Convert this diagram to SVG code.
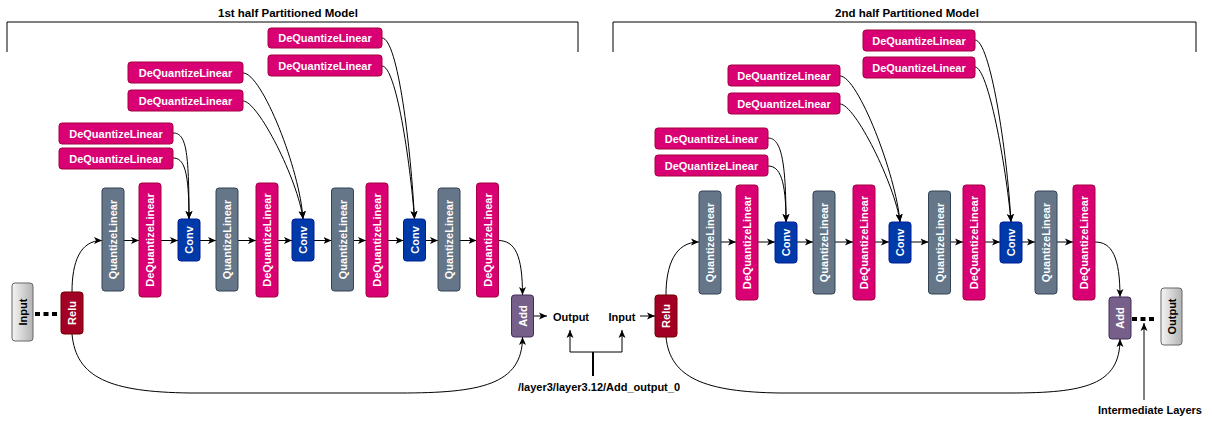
<svg xmlns="http://www.w3.org/2000/svg" width="1212" height="421" viewBox="0 0 1212 421">
<defs>
<marker id="ah" markerUnits="userSpaceOnUse" markerWidth="9" markerHeight="8" refX="8" refY="4" orient="auto"><path d="M0,0.5 L8,4 L0,7.5 L2,4 z" fill="#000"/></marker>
<linearGradient id="gray" x1="0" y1="0" x2="1" y2="0"><stop offset="0" stop-color="#f5f5f5"/><stop offset="1" stop-color="#b3b3b3"/></linearGradient>
<style>
text{font-family:"Liberation Sans",Arial,sans-serif;font-weight:bold;font-size:11px;dominant-baseline:central;text-anchor:middle}
.w{fill:#fff}
.k{fill:#000}
.ql{fill:#647687;stroke:#314354}
.dql{fill:#d80073;stroke:#a50040}
.conv{fill:#0039a8;stroke:#001d9c}
.relu{fill:#a20025;stroke:#6f0000}
.add{fill:#76608a;stroke:#432d57}
.io{fill:url(#gray);stroke:#666}
.e{fill:none;stroke:#000;stroke-width:1;marker-end:url(#ah)}
.p{fill:none;stroke:#000;stroke-width:1}
.dot{fill:none;stroke:#000;stroke-width:4;stroke-dasharray:5 3.5}
</style>
</defs>
<rect width="1212" height="421" fill="#fff"/>

<g id="frames">
<path class="p" d="M7,52 V22 H578 V52"/>
<text x="288" y="13" class="k" style="font-size:11.5px">1st half Partitioned Model</text>
<path class="p" d="M613,52 V22 H1196 V52"/>
<text x="907" y="13" class="k" style="font-size:11.5px">2nd half Partitioned Model</text>
</g>

<g id="connectors">
<path class="e" d="M124,240.5 H139"/>
<path class="e" d="M161,240.5 H178"/>
<path class="e" d="M200,240.5 H216"/>
<path class="e" d="M238,240.5 H256"/>
<path class="e" d="M278,240.5 H292"/>
<path class="e" d="M314,240.5 H331.5"/>
<path class="e" d="M353.5,240.5 H366"/>
<path class="e" d="M388,240.5 H403.5"/>
<path class="e" d="M425.5,240.5 H438"/>
<path class="e" d="M460,240.5 H476.5"/>
<path class="e" d="M721,242 H736"/>
<path class="e" d="M758,242 H775"/>
<path class="e" d="M797,242 H813"/>
<path class="e" d="M835,242 H853"/>
<path class="e" d="M875,242 H889"/>
<path class="e" d="M911,242 H928.5"/>
<path class="e" d="M950.5,242 H963"/>
<path class="e" d="M985,242 H1000"/>
<path class="e" d="M1022,242 H1035"/>
<path class="e" d="M1057,242 H1073"/>
<path class="e" d="M72,292 C72,262 80,240.5 102,240.5"/>
<path class="e" d="M666,295 C666,265 675,242 699,242"/>
<path class="e" d="M173,133 C186,133 189,150 189,219"/>
<path class="e" d="M173,158 C184,158 189,170 189,219"/>
<path class="e" d="M243,73 C262,73 300,170 303,219"/>
<path class="e" d="M243,101 C258,101 298,180 303,219"/>
<path class="e" d="M382,38 C398,38 411,150 414.5,219"/>
<path class="e" d="M382,66 C396,66 410,160 414.5,219"/>
<path class="e" d="M768,138 C781,138 786,160 786,222"/>
<path class="e" d="M768,166 C780,166 786,180 786,222"/>
<path class="e" d="M840,76 C858,76 896,175 900,222"/>
<path class="e" d="M840,104 C855,104 895,185 900,222"/>
<path class="e" d="M975,40 C990,40 1007,150 1011,222"/>
<path class="e" d="M975,67 C988,67 1006,165 1011,222"/>
<path class="e" d="M498,240.5 C515,240.5 522.5,255 522.5,295"/>
<path class="e" d="M1095,242 C1112,242 1120,257 1120,297"/>
<path class="e" d="M72,334 C76,378 110,392 190,393 L400,393 C480,393 522.5,385 522.5,337"/>
<path class="e" d="M666,337 C670,378 705,392 780,393 L1010,393 C1085,393 1120,385 1120,339"/>
<path class="e" d="M533,316 H547"/>
<path class="e" d="M640,316 H655"/>
<path class="e" d="M570,352 V330"/>
<path class="e" d="M622,352 V330"/>
<path class="p" d="M570,352 H622"/>
<path class="p" d="M593,352 V376" style="stroke-width:2"/>
<path class="dot" d="M35,314 H58"/>
<path class="dot" d="M1132,319 H1155"/>
<path class="e" d="M1144,400 V323"/>
</g>

<g id="labels">
<text x="571" y="317" class="k">Output</text>
<text x="622" y="317" class="k">Input</text>
<text x="599" y="387" class="k">/layer3/layer3.12/Add_output_0</text>
<text x="1150" y="410" class="k">Intermediate Layers</text>
</g>

<g id="input1"><rect class="io" x="12" y="283" width="21" height="58" rx="3"/><text class="k" transform="translate(22.5,312) rotate(-90)">Input</text></g>
<g id="relu1"><rect class="relu" x="61" y="292" width="22" height="42" rx="3"/><text class="w" transform="translate(72,313) rotate(-90)">Relu</text></g>

<g id="dqlh1"><rect class="dql" x="268" y="28" width="114" height="20" rx="3"/><text class="w" x="325" y="38">DeQuantizeLinear</text></g>
<g id="dqlh2"><rect class="dql" x="268" y="55" width="114" height="21" rx="3"/><text class="w" x="325" y="65.5">DeQuantizeLinear</text></g>
<g id="dqlh3"><rect class="dql" x="128" y="62" width="115" height="21" rx="3"/><text class="w" x="185.5" y="72.5">DeQuantizeLinear</text></g>
<g id="dqlh4"><rect class="dql" x="128" y="90" width="115" height="21" rx="3"/><text class="w" x="185.5" y="100.5">DeQuantizeLinear</text></g>
<g id="dqlh5"><rect class="dql" x="59" y="123" width="114" height="21" rx="3"/><text class="w" x="116" y="133.5">DeQuantizeLinear</text></g>
<g id="dqlh6"><rect class="dql" x="59" y="148" width="114" height="21" rx="3"/><text class="w" x="116" y="158.5">DeQuantizeLinear</text></g>

<g id="ql1"><rect class="ql" x="102" y="188" width="22" height="103" rx="3"/><text class="w" transform="translate(113,239.5) rotate(-90)">QuantizeLinear</text></g>
<g id="dql1"><rect class="dql" x="139" y="183" width="22" height="114" rx="3"/><text class="w" transform="translate(150,240) rotate(-90)">DeQuantizeLinear</text></g>
<g id="conv1"><rect class="conv" x="178" y="219" width="22" height="42" rx="3"/><text class="w" transform="translate(189,240) rotate(-90)">Conv</text></g>
<g id="ql2"><rect class="ql" x="216" y="188" width="22" height="103" rx="3"/><text class="w" transform="translate(227,239.5) rotate(-90)">QuantizeLinear</text></g>
<g id="dql2"><rect class="dql" x="256" y="183" width="22" height="114" rx="3"/><text class="w" transform="translate(267,240) rotate(-90)">DeQuantizeLinear</text></g>
<g id="conv2"><rect class="conv" x="292" y="219" width="22" height="42" rx="3"/><text class="w" transform="translate(303,240) rotate(-90)">Conv</text></g>
<g id="ql3"><rect class="ql" x="331.5" y="188" width="22" height="103" rx="3"/><text class="w" transform="translate(342.5,239.5) rotate(-90)">QuantizeLinear</text></g>
<g id="dql3"><rect class="dql" x="366" y="183" width="22" height="114" rx="3"/><text class="w" transform="translate(377,240) rotate(-90)">DeQuantizeLinear</text></g>
<g id="conv3"><rect class="conv" x="403.5" y="219" width="22" height="42" rx="3"/><text class="w" transform="translate(414.5,240) rotate(-90)">Conv</text></g>
<g id="ql4"><rect class="ql" x="438" y="188" width="22" height="103" rx="3"/><text class="w" transform="translate(449,239.5) rotate(-90)">QuantizeLinear</text></g>
<g id="dql4"><rect class="dql" x="476.5" y="183" width="22" height="114" rx="3"/><text class="w" transform="translate(487.5,240) rotate(-90)">DeQuantizeLinear</text></g>
<g id="add1"><rect class="add" x="511.5" y="295" width="22" height="42" rx="3"/><text class="w" transform="translate(522.5,316) rotate(-90)">Add</text></g>

<g id="relu2"><rect class="relu" x="655" y="295" width="22" height="42" rx="3"/><text class="w" transform="translate(666,316) rotate(-90)">Relu</text></g>

<g id="dqlh7"><rect class="dql" x="863" y="30" width="112" height="21" rx="3"/><text class="w" x="919" y="40.5">DeQuantizeLinear</text></g>
<g id="dqlh8"><rect class="dql" x="863" y="57" width="112" height="21" rx="3"/><text class="w" x="919" y="67.5">DeQuantizeLinear</text></g>
<g id="dqlh9"><rect class="dql" x="728" y="65" width="112" height="21" rx="3"/><text class="w" x="784" y="75.5">DeQuantizeLinear</text></g>
<g id="dqlh10"><rect class="dql" x="728" y="93" width="112" height="21" rx="3"/><text class="w" x="784" y="103.5">DeQuantizeLinear</text></g>
<g id="dqlh11"><rect class="dql" x="655" y="128" width="113" height="21" rx="3"/><text class="w" x="711.5" y="138.5">DeQuantizeLinear</text></g>
<g id="dqlh12"><rect class="dql" x="655" y="155" width="113" height="21" rx="3"/><text class="w" x="711.5" y="165.5">DeQuantizeLinear</text></g>

<g id="ql5"><rect class="ql" x="699" y="191" width="22" height="103" rx="3"/><text class="w" transform="translate(710,242.5) rotate(-90)">QuantizeLinear</text></g>
<g id="dql5"><rect class="dql" x="736" y="185" width="22" height="115" rx="3"/><text class="w" transform="translate(747,242.5) rotate(-90)">DeQuantizeLinear</text></g>
<g id="conv4"><rect class="conv" x="775" y="222" width="22" height="41" rx="3"/><text class="w" transform="translate(786,242.5) rotate(-90)">Conv</text></g>
<g id="ql6"><rect class="ql" x="813" y="191" width="22" height="103" rx="3"/><text class="w" transform="translate(824,242.5) rotate(-90)">QuantizeLinear</text></g>
<g id="dql6"><rect class="dql" x="853" y="185" width="22" height="115" rx="3"/><text class="w" transform="translate(864,242.5) rotate(-90)">DeQuantizeLinear</text></g>
<g id="conv5"><rect class="conv" x="889" y="222" width="22" height="41" rx="3"/><text class="w" transform="translate(900,242.5) rotate(-90)">Conv</text></g>
<g id="ql7"><rect class="ql" x="928.5" y="191" width="22" height="103" rx="3"/><text class="w" transform="translate(939.5,242.5) rotate(-90)">QuantizeLinear</text></g>
<g id="dql7"><rect class="dql" x="963" y="185" width="22" height="115" rx="3"/><text class="w" transform="translate(974,242.5) rotate(-90)">DeQuantizeLinear</text></g>
<g id="conv6"><rect class="conv" x="1000" y="222" width="22" height="41" rx="3"/><text class="w" transform="translate(1011,242.5) rotate(-90)">Conv</text></g>
<g id="ql8"><rect class="ql" x="1035" y="191" width="22" height="103" rx="3"/><text class="w" transform="translate(1046,242.5) rotate(-90)">QuantizeLinear</text></g>
<g id="dql8"><rect class="dql" x="1073" y="185" width="22" height="115" rx="3"/><text class="w" transform="translate(1084,242.5) rotate(-90)">DeQuantizeLinear</text></g>
<g id="add2"><rect class="add" x="1109" y="297" width="22" height="42" rx="3"/><text class="w" transform="translate(1120,318) rotate(-90)">Add</text></g>
<g id="output2"><rect class="io" x="1161" y="288" width="21" height="57" rx="3"/><text class="k" transform="translate(1171.5,316.5) rotate(-90)">Output</text></g>
</svg>
